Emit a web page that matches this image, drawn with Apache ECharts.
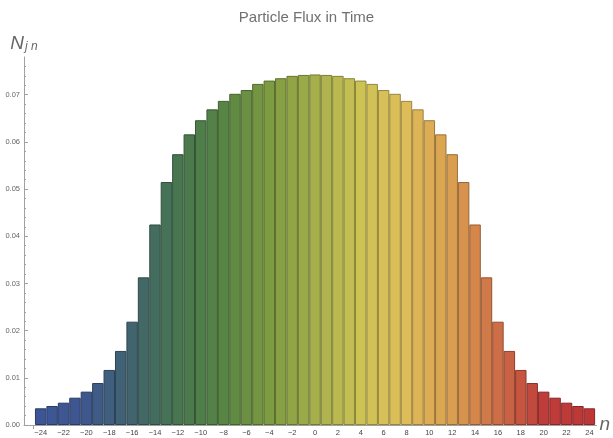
<!DOCTYPE html>
<html>
<head>
<meta charset="utf-8">
<script src="https://cdn.jsdelivr.net/npm/echarts@6/dist/echarts.min.js"></script>
<style>
  html, body { margin: 0; padding: 0; background: #fff; }
  #chart { width: 613px; height: 438px; }
</style>
</head>
<body>
<div id="chart"></div>
<script>
// time steps n
var nValues = [-24, -23, -22, -21, -20, -19, -18, -17, -16, -15, -14, -13, -12, -11, -10, -9, -8, -7, -6, -5, -4, -3, -2, -1,
  0, 1, 2, 3, 4, 5, 6, 7, 8, 9, 10, 11, 12, 13, 14, 15, 16, 17, 18, 19, 20, 21, 22, 23, 24];
// particle flux N_jn
var flux = [0.00354, 0.00403, 0.00473, 0.00579, 0.00707, 0.00890, 0.01167, 0.01570, 0.02190, 0.03130,
  0.04250, 0.05150, 0.05740, 0.06160, 0.06460, 0.06690, 0.06870, 0.07020, 0.07100, 0.07230,
  0.07300, 0.07350, 0.07400, 0.07420, 0.07430, 0.07420, 0.07400, 0.07350, 0.07300, 0.07230,
  0.07100, 0.07020, 0.06870, 0.06690, 0.06460, 0.06160, 0.05740, 0.05150, 0.04250, 0.03130,
  0.02190, 0.01570, 0.01167, 0.00890, 0.00707, 0.00579, 0.00473, 0.00403, 0.00354];
var xTickLabels = [-24, -22, -20, -18, -16, -14, -12, -10, -8, -6, -4, -2, 0, 2, 4, 6, 8, 10, 12, 14, 16, 18, 20, 22, 24];
var yTickLabels = [0, 0.01, 0.02, 0.03, 0.04, 0.05, 0.06, 0.07];

// blue -> green -> yellow -> red, evenly spaced along n
var colorStops = [
  [61, 85, 150], [62, 88, 142], [65, 100, 110], [72, 118, 80], [88, 133, 68], [125, 155, 65],
  [165, 175, 75], [205, 195, 85], [222, 188, 88], [218, 158, 80], [205, 110, 70], [190, 60, 58], [190, 55, 55]
];

function colorAt(t, k) {
  var p = t * (colorStops.length - 1);
  var i = Math.min(Math.floor(p), colorStops.length - 2);
  var f = p - i;
  var a = colorStops[i], b = colorStops[i + 1];
  var c = [0, 1, 2].map(function (j) { return Math.round((a[j] + (b[j] - a[j]) * f) * k); });
  return 'rgb(' + c.join(',') + ')';
}

var font = 'Liberation Sans, Arial, sans-serif';
var barData = nValues.map(function (n, i) {
  var t = i / (nValues.length - 1);
  return {
    value: [n, flux[i]],
    itemStyle: { color: colorAt(t, 1), borderColor: colorAt(t, 0.7), borderWidth: 1 }
  };
});

var chart = echarts.init(document.getElementById('chart'));
chart.setOption({
  animation: false,
  title: {
    text: 'Particle Flux in Time',
    left: 'center',
    top: 10,
    padding: 0,
    textStyle: { fontFamily: font, fontSize: 15, fontWeight: 'normal', color: '#707070' }
  },
  grid: { left: 24, right: 15, top: 57, bottom: 13 },
  xAxis: {
    type: 'value',
    min: -25.46,
    max: 24.63,
    name: 'n',
    nameLocation: 'end',
    nameGap: 2,
    nameTextStyle: { fontFamily: font, fontStyle: 'italic', fontSize: 19, color: '#666', padding: [2, 0, 0, 0] },
    axisLine: { onZero: false, lineStyle: { color: '#a0a0a0' } },
    axisTick: { show: true, customValues: [-24.65], length: 4, lineStyle: { color: '#a0a0a0' } },
    axisLabel: {
      customValues: xTickLabels,
      fontFamily: font, fontSize: 7.5, color: '#444', margin: 4,
      formatter: function (v) { return v < 0 ? '\u2212' + (-v) : String(v); }
    },
    splitLine: { show: false }
  },
  yAxis: {
    type: 'value',
    min: 0,
    max: 0.078,
    interval: 0.01,
    name: '{a|N}{b|j n}',
    nameLocation: 'end',
    nameGap: 4,
    nameTextStyle: {
      rich: {
        a: { fontFamily: font, fontStyle: 'italic', fontSize: 19, color: '#666' },
        b: { fontFamily: font, fontStyle: 'italic', fontSize: 12, color: '#666', padding: [6, 0, 0, 1] }
      }
    },
    axisLine: { show: true, onZero: false, lineStyle: { color: '#a0a0a0' } },
    axisTick: { show: true, inside: true, length: 4, customValues: yTickLabels, lineStyle: { color: '#a0a0a0' } },
    minorTick: { show: true, splitNumber: 5, length: 2, lineStyle: { color: '#a0a0a0' } },
    axisLabel: {
      customValues: yTickLabels,
      fontFamily: font, fontSize: 7.5, color: '#666', margin: 4,
      formatter: function (v) { return v.toFixed(2); }
    },
    splitLine: { show: false }
  },
  series: [{
    type: 'bar',
    barWidth: 11.46,
    data: barData
  }]
});
</script>
</body>
</html>
